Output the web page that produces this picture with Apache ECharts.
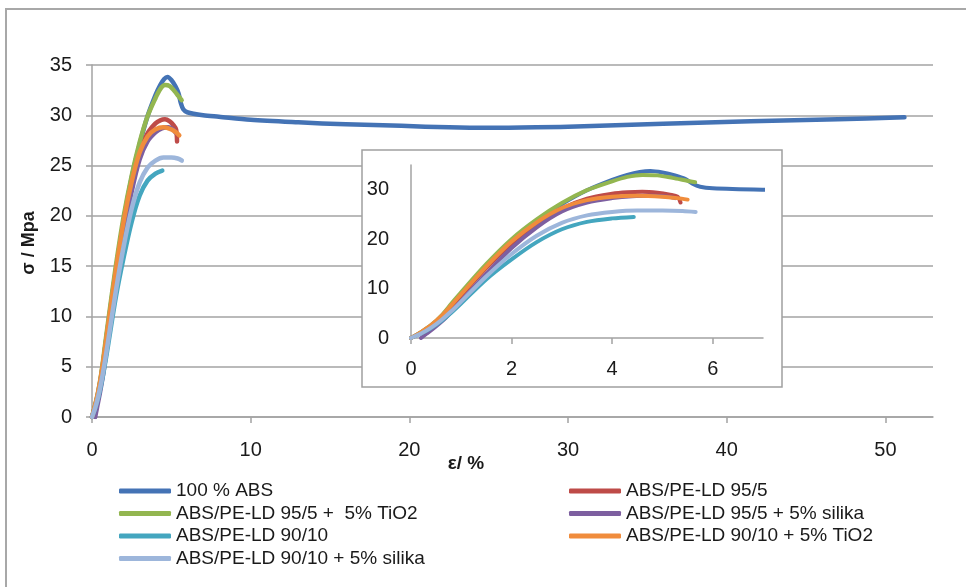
<!DOCTYPE html>
<html>
<head>
<meta charset="utf-8">
<script src="https://cdn.jsdelivr.net/npm/echarts@6/dist/echarts.min.js"></script>
<style>
html,body{margin:0;padding:0;background:#fff;}
#chart{width:966px;height:587px;}
</style>
</head>
<body>
<div id="chart"></div>
<script>
// ---- data (strain %, stress MPa) ----
const seriesNames = [
  '100 % ABS',
  'ABS/PE-LD 95/5',
  'ABS/PE-LD 95/5 +  5% TiO2',
  'ABS/PE-LD 95/5 + 5% silika',
  'ABS/PE-LD 90/10',
  'ABS/PE-LD 90/10 + 5% TiO2',
  'ABS/PE-LD 90/10 + 5% silika'
];
const abs100 = [[0,0],[0.2,1.1],[0.4,2.5],[0.6,4.3],[0.8,6.6],[1,9.0],[1.5,14.6],[2,19.6],[2.5,23.8],[3,27.1],[3.5,29.9],[4,32.0],[4.3,33.0],[4.55,33.6],[4.76,33.8],[5.0,33.5],[5.25,32.9],[5.45,32.2],[5.6,31.2],[5.75,30.6],[6,30.3],[7,30.0],[8,29.85],[10,29.55],[13,29.3],[16,29.1],[19.5,28.95],[22.5,28.8],[25,28.75],[28,28.8],[31,28.9],[36,29.15],[41.5,29.4],[47,29.6],[51.2,29.8]];
const pe95 = [[0,0],[0.2,1.1],[0.4,2.4],[0.6,4.2],[0.8,6.3],[1,8.6],[1.5,14.2],[2,19.0],[2.5,23.0],[3,26.2],[3.5,28.2],[4,29.2],[4.3,29.5],[4.6,29.6],[4.9,29.4],[5.15,29.0],[5.3,28.6],[5.36,27.4]];
const pe95Ti = [[0,0],[0.2,1.2],[0.4,2.6],[0.6,4.5],[0.8,6.9],[1,9.3],[1.5,15.0],[2,20.0],[2.5,24.0],[3,27.3],[3.5,29.9],[4,31.7],[4.3,32.6],[4.6,33.0],[4.9,32.9],[5.2,32.4],[5.45,31.9],[5.65,31.5]];
const pe95Si = [[0.2,0],[0.3,0.8],[0.5,2.4],[0.7,4.2],[1,7.5],[1.5,13.0],[2,18.2],[2.5,22.4],[3,25.6],[3.5,27.4],[4,28.3],[4.4,28.7],[4.8,28.8],[5.1,28.6],[5.25,28.3]];
const pe90 = [[0,0],[0.2,0.9],[0.4,2.0],[0.6,3.4],[0.8,5.1],[1,7.0],[1.5,11.9],[2,15.9],[2.5,19.4],[3,22.0],[3.5,23.5],[4,24.2],[4.43,24.5]];
const pe90Ti = [[0,0],[0.2,1.2],[0.4,2.6],[0.6,4.4],[0.8,6.6],[1,8.9],[1.5,14.5],[2,19.5],[2.5,23.4],[3,26.3],[3.5,27.9],[4,28.6],[4.5,28.8],[5,28.6],[5.3,28.3],[5.5,28.0]];
const pe90Si = [[0,0],[0.2,0.9],[0.4,2.1],[0.6,3.6],[0.8,5.4],[1,7.4],[1.5,12.5],[2,17.0],[2.5,20.7],[3,23.3],[3.5,24.8],[4,25.5],[4.5,25.8],[5,25.8],[5.4,25.7],[5.66,25.5]];
const seriesData = [abs100, pe95, pe95Ti, pe95Si, pe90, pe90Ti, pe90Si];
const xTicksMain = [0,10,20,30,40,50];
const xTicksInset = [0,2,4,6];
const yTicksInset = [0,10,20,30];
const colors = ['#4473B5','#BE4B48','#93B650','#7D5FA0','#44A6BF','#F08C3C','#9DB6DB'];

const FONT = 'Liberation Sans, Arial, sans-serif';
const grey = '#a3a3a3';
const labelColor = '#1a1a1a';

const series = [];
seriesData.forEach((d, i) => {
  series.push({
    name: seriesNames[i], type: 'line', xAxisIndex: 0, yAxisIndex: 0,
    data: d, showSymbol: false, symbol: 'none', smooth: 0.3,
    lineStyle: { width: 4.5, color: colors[i], cap: 'round', join: 'round' },
    itemStyle: { color: colors[i] }, z: 2, silent: true
  });
});
seriesData.forEach((d, i) => {
  series.push({
    name: seriesNames[i], type: 'line', xAxisIndex: 1, yAxisIndex: 1,
    data: d, showSymbol: false, symbol: 'none', smooth: 0.3,
    lineStyle: { width: 4, color: colors[i], cap: 'round', join: 'round' },
    itemStyle: { color: colors[i] }, z: 6, silent: true, clip: true
  });
});

const legendCommon = {
  orient: 'vertical', top: 475, itemWidth: 52, itemHeight: 5, itemGap: 0.5,
  icon: 'roundRect', selectedMode: false,
  textStyle: { fontSize: 19, lineHeight: 22, color: labelColor, fontFamily: FONT }
};

const option = {
  animation: false,
  backgroundColor: '#ffffff',
  color: colors,
  grid: [
    { left: 92, top: 65, width: 841, height: 352 },
    { left: 411, top: 165, width: 352, height: 173 }
  ],
  xAxis: [
    { gridIndex: 0, type: 'value', min: 0, max: 53, interval: 10,
      axisLine: { show: true, lineStyle: { color: grey, width: 1.5 } },
      axisTick: { show: true, length: 6, lineStyle: { color: grey, width: 1.5 }, customValues: xTicksMain },
      axisLabel: { margin: 23, fontSize: 20, color: labelColor, fontFamily: FONT, customValues: xTicksMain },
      splitLine: { show: false } },
    { gridIndex: 1, type: 'value', min: 0, max: 7, interval: 2, z: 5,
      axisLine: { show: true, lineStyle: { color: grey, width: 1.5 } },
      axisTick: { show: true, length: 6, lineStyle: { color: grey, width: 1.5 }, customValues: xTicksInset },
      axisLabel: { margin: 21, fontSize: 20, color: labelColor, fontFamily: FONT, customValues: xTicksInset },
      splitLine: { show: false } }
  ],
  yAxis: [
    { gridIndex: 0, type: 'value', min: 0, max: 35, interval: 5,
      axisLine: { show: true, lineStyle: { color: grey, width: 1.5 } },
      axisTick: { show: true, length: 6, lineStyle: { color: grey, width: 1.5 } },
      axisLabel: { margin: 20, fontSize: 20, color: labelColor, fontFamily: FONT },
      splitLine: { show: true, lineStyle: { color: grey, width: 1.5 } } },
    { gridIndex: 1, type: 'value', min: 0, max: 35, interval: 10, z: 5,
      axisLine: { show: true, lineStyle: { color: grey, width: 1.5 } },
      axisTick: { show: false },
      axisLabel: { margin: 22, fontSize: 20, color: labelColor, fontFamily: FONT, customValues: yTicksInset },
      splitLine: { show: false } }
  ],
  legend: [
    Object.assign({}, legendCommon, { left: 114, data: [seriesNames[0], seriesNames[2], seriesNames[4], seriesNames[6]] }),
    Object.assign({}, legendCommon, { left: 564, data: [seriesNames[1], seriesNames[3], seriesNames[5]] })
  ],
  graphic: [
    { type: 'rect', z: 0, silent: true, shape: { x: 6, y: 9, width: 1000, height: 1000 },
      style: { fill: 'none', stroke: '#a8a8a8', lineWidth: 2 } },
    { type: 'rect', z: 3, silent: true, shape: { x: 362, y: 150, width: 420, height: 237 },
      style: { fill: '#ffffff', stroke: '#a0a0a0', lineWidth: 1.5 } },
    { type: 'text', z: 4, silent: true, x: 29, y: 243, rotation: Math.PI / 2,
      style: { text: 'σ / Mpa', font: 'bold 18px ' + FONT, fill: labelColor, align: 'center', verticalAlign: 'middle' } },
    { type: 'text', z: 4, silent: true, x: 466, y: 464,
      style: { text: 'ε/ %', font: 'bold 19px ' + FONT, fill: labelColor, align: 'center', verticalAlign: 'middle' } }
  ],
  series: series
};

const chart = echarts.init(document.getElementById('chart'), null, { renderer: 'canvas' });
chart.setOption(option);
</script>
</body>
</html>
